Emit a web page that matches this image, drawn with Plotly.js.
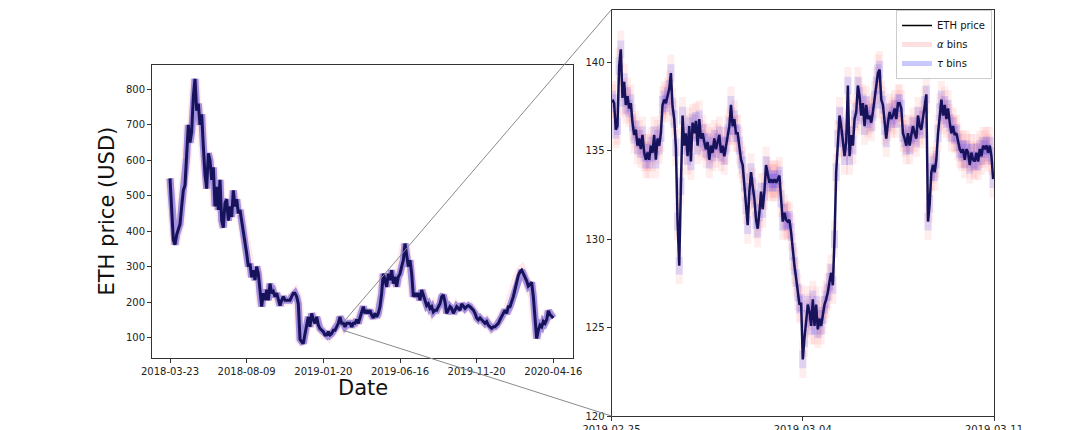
<!DOCTYPE html>
<html><head><meta charset="utf-8">
<script src="https://cdn.plot.ly/plotly-3.0.1.min.js"></script>
<style>html,body{margin:0;padding:0;background:#fff}#chart{width:1076px;height:430px}</style>
</head><body><div id="chart"></div>
<script>
// ---- data ----
const leftTickLabels = ['2018-03-23','2018-08-09','2019-01-20','2019-06-16','2019-11-20','2020-04-16'];
const leftTickIndex = [0, 46, 92, 138, 184, 230];
const leftPrice = [
 549,460,375,362,390,405,420,470,515,530,
 610,700,650,680,780,830,740,760,700,730,
 640,560,520,620,600,545,580,470,525,460,
 545,430,410,480,490,430,470,440,515,470,
 490,450,460,430,403,375,337,300,308,270,
 290,262,300,280,225,187,225,205,235,205,
 252,225,230,215,225,205,190,205,215,205,
 205,205,205,215,225,225,215,195,95,88,
 83,110,130,158,130,168,150,140,158,135,
 125,120,116,107,107,116,107,111,120,120,
 130,140,158,140,140,130,140,140,140,130,
 140,140,150,140,158,177,187,168,177,168,
 177,163,155,168,158,168,187,225,280,262,
 243,280,262,290,252,271,243,271,280,300,
 318,365,328,300,318,280,215,225,215,225,
 205,234,220,205,190,195,182,187,172,177,
 177,187,195,215,220,200,168,177,187,182,
 168,177,187,182,177,195,187,182,187,190,
 187,182,177,168,155,150,155,150,145,140,
 145,135,130,126,130,130,135,140,150,158,
 168,177,168,187,187,200,215,235,255,275,
 285,290,280,270,260,245,250,255,215,150,
 97,120,135,130,145,140,150,175,165,160,155
];
const leftYTicks = [100,200,300,400,500,600,700,800];

const zoomTickLabels = ['2019-02-25','2019-03-04','2019-03-11'];
const zoomYTicks = [120,125,130,135,140];
const zoomStart = '2019-02-25T00:50:00';
const zoomStepMinutes = 88;
const zoomPrice = [
 137.9,137.7,136.2,136.4,139.8,140.75,138.0,138.9,137.6,138.1,
 137.4,137.7,136.6,135.9,136.2,135.3,135.7,135.1,135.9,134.9,
 134.5,134.9,134.5,135.3,134.9,135.9,134.5,135.7,135.3,136.0,
 137.6,137.9,137.7,138.1,138.5,139.4,137.5,136.8,135.2,131.0,
 128.5,133.0,137.0,135.3,136.0,134.7,136.4,134.4,136.6,136.0,
 136.7,135.3,136.8,135.7,136.0,135.5,135.1,135.5,134.5,135.3,
 134.9,135.7,135.1,135.5,135.9,134.9,135.3,134.7,135.3,136.0,
 136.4,137.6,136.4,136.8,136.0,136.0,135.3,134.5,134.2,133.2,
 131.9,130.8,132.7,133.8,133.0,132.3,131.1,130.6,131.5,132.7,
 131.7,132.7,134.2,133.6,133.2,133.4,133.2,133.4,133.2,133.4,
 133.6,132.3,131.0,131.5,131.1,131.0,131.1,130.4,129.3,128.5,
 127.8,127.0,126.3,126.4,123.2,124.4,125.5,126.3,125.9,125.1,
 126.6,125.1,126.3,124.9,125.5,125.1,125.7,126.3,126.6,127.0,
 127.6,128.1,127.4,130.0,133.8,135.7,137.0,136.4,135.7,134.7,
 135.5,138.7,134.7,135.9,135.3,136.8,137.2,138.7,138.1,137.0,
 137.7,136.4,137.6,136.8,137.0,136.6,137.2,137.9,138.7,139.4,
 139.6,137.9,137.6,136.4,135.7,136.6,137.2,136.8,137.0,137.4,
 136.8,137.7,137.7,137.4,136.0,135.7,135.3,136.0,135.3,135.9,
 136.4,136.0,135.7,137.0,136.4,136.2,136.8,137.6,138.2,131.0,
 132.0,133.8,134.2,133.8,134.5,136.0,137.2,137.9,137.0,137.6,
 136.8,137.4,136.6,136.0,136.4,135.9,136.0,135.5,135.1,134.9,
 135.1,134.5,135.1,134.9,134.2,134.9,134.5,134.4,134.9,134.4,
 135.1,134.7,135.3,135.1,135.3,134.9,135.3,134.7,133.4
];
const alphaBinHalf = 1.05;
const tauBinHalf = 0.5;
const zoomStartIndex = 104;   // position of 2019-02-25 in the left panel
const zoomLow = 120, zoomHigh = 143;

// ---- build ----
const leftX = leftPrice.map((_, i) => i);
const t0 = Date.parse(zoomStart + 'Z');
const zoomX = zoomPrice.map((_, i) => new Date(t0 + i * zoomStepMinutes * 60000).toISOString().slice(0, 19).replace('T', ' '));

const W = 1076, H = 430;
const domLX = [152 / W, 573 / W], domLY = [(H - 358) / H, (H - 65) / H];
const domRX = [611.5 / W, 994 / W], domRY = [14 / H, (H - 9.5) / H];
const rangeLX = [-10.8, 241.8], rangeLY = [42, 869];

const font = 'DejaVu Sans, sans-serif';
const NAVY = '#17135a';

const traces = [
  // left panel
  {x: leftX, y: leftPrice, xaxis: 'x', yaxis: 'y', mode: 'lines', showlegend: false,
   line: {color: 'rgba(255,60,60,0.10)', width: 10}, hoverinfo: 'skip'},
  {x: leftX, y: leftPrice, xaxis: 'x', yaxis: 'y', mode: 'lines', showlegend: false,
   line: {color: 'rgba(105,85,215,0.60)', width: 7}, hoverinfo: 'skip'},
  {x: leftX, y: leftPrice, xaxis: 'x', yaxis: 'y', mode: 'lines', showlegend: false,
   line: {color: NAVY, width: 3}, hoverinfo: 'skip'},
  // right panel: bins as vertical bars
  {x: zoomX, y: zoomPrice, xaxis: 'x2', yaxis: 'y2', mode: 'markers', showlegend: false,
   marker: {size: 1, color: 'rgba(0,0,0,0)'},
   error_y: {type: 'constant', value: alphaBinHalf, color: 'rgba(250,60,60,0.085)', thickness: 7, width: 0},
   hoverinfo: 'skip'},
  {x: zoomX, y: zoomPrice, xaxis: 'x2', yaxis: 'y2', mode: 'markers', showlegend: false,
   marker: {size: 1, color: 'rgba(0,0,0,0)'},
   error_y: {type: 'constant', value: tauBinHalf, color: 'rgba(50,50,255,0.15)', thickness: 7, width: 0},
   hoverinfo: 'skip'},
  {x: zoomX, y: zoomPrice, xaxis: 'x2', yaxis: 'y2', mode: 'lines', showlegend: false,
   line: {color: NAVY, width: 2.5}, hoverinfo: 'skip'},
  // legend entries
  {x: [null], y: [null], xaxis: 'x2', yaxis: 'y2', mode: 'lines', name: 'ETH price',
   line: {color: '#000', width: 1.5}},
  {x: [null], y: [null], xaxis: 'x2', yaxis: 'y2', mode: 'lines', name: '<i>α</i> bins',
   line: {color: 'rgba(255,60,60,0.16)', width: 5}},
  {x: [null], y: [null], xaxis: 'x2', yaxis: 'y2', mode: 'lines', name: '<i>τ</i> bins',
   line: {color: 'rgba(40,40,255,0.25)', width: 5}}
];

const axisCommon = {
  showline: true, mirror: true, linecolor: '#333', linewidth: 1,
  ticks: 'outside', ticklen: 4, tickwidth: 1, tickcolor: '#333',
  showgrid: false, zeroline: false, fixedrange: true,
  tickfont: {family: font, size: 10, color: '#222'}
};

function lx(v) { return domLX[0] + (v - rangeLX[0]) / (rangeLX[1] - rangeLX[0]) * (domLX[1] - domLX[0]); }
function ly(v) { return domLY[0] + (v - rangeLY[0]) / (rangeLY[1] - rangeLY[0]) * (domLY[1] - domLY[0]); }

const connColor = '#8a8a8a';
const shapes = [
  {type: 'line', xref: 'paper', yref: 'paper', x0: lx(zoomStartIndex), y0: ly(zoomHigh), x1: domRX[0], y1: domRY[1],
   line: {color: connColor, width: 1}, layer: 'above'},
  {type: 'line', xref: 'paper', yref: 'paper', x0: lx(zoomStartIndex), y0: ly(zoomLow), x1: domRX[0], y1: domRY[0],
   line: {color: connColor, width: 1}, layer: 'above'}
];

const layout = {
  width: W, height: H,
  margin: {l: 0, r: 0, t: 0, b: 0},
  paper_bgcolor: '#fff', plot_bgcolor: '#fff',
  font: {family: font, size: 10, color: '#222'},
  xaxis: Object.assign({}, axisCommon, {domain: domLX, anchor: 'y', range: rangeLX,
    tickmode: 'array', tickvals: leftTickIndex, ticktext: leftTickLabels}),
  yaxis: Object.assign({}, axisCommon, {domain: domLY, anchor: 'x', range: rangeLY,
    tickmode: 'array', tickvals: leftYTicks, ticktext: leftYTicks.map(String)}),
  xaxis2: Object.assign({}, axisCommon, {domain: domRX, anchor: 'y2', type: 'date',
    range: [zoomTickLabels[0], zoomTickLabels[2]],
    tickmode: 'array', tickvals: zoomTickLabels, ticktext: zoomTickLabels}),
  yaxis2: Object.assign({}, axisCommon, {domain: domRY, anchor: 'x2', range: [zoomLow, zoomHigh],
    tickmode: 'array', tickvals: zoomYTicks, ticktext: zoomYTicks.map(String)}),
  showlegend: true,
  legend: {x: 992 / W, xanchor: 'right', y: 1 - 10 / H, yanchor: 'top',
    bgcolor: 'rgba(255,255,255,0.85)', bordercolor: '#cccccc', borderwidth: 1,
    font: {family: font, size: 10, color: '#111'}, tracegroupgap: 0},
  annotations: [
    {text: 'ETH price (USD)', xref: 'paper', yref: 'paper', x: 106 / W, y: (H - 211.5) / H,
     xanchor: 'center', yanchor: 'middle', textangle: -90, showarrow: false,
     font: {family: font, size: 21, color: '#111'}},
    {text: 'Date', xref: 'paper', yref: 'paper', x: 362.5 / W, y: (H - 388) / H,
     xanchor: 'center', yanchor: 'middle', showarrow: false,
     font: {family: font, size: 21, color: '#111'}}
  ],
  shapes: shapes,
  hovermode: false
};

Plotly.newPlot('chart', traces, layout, {staticPlot: true, displayModeBar: false});
</script>
</body></html>
